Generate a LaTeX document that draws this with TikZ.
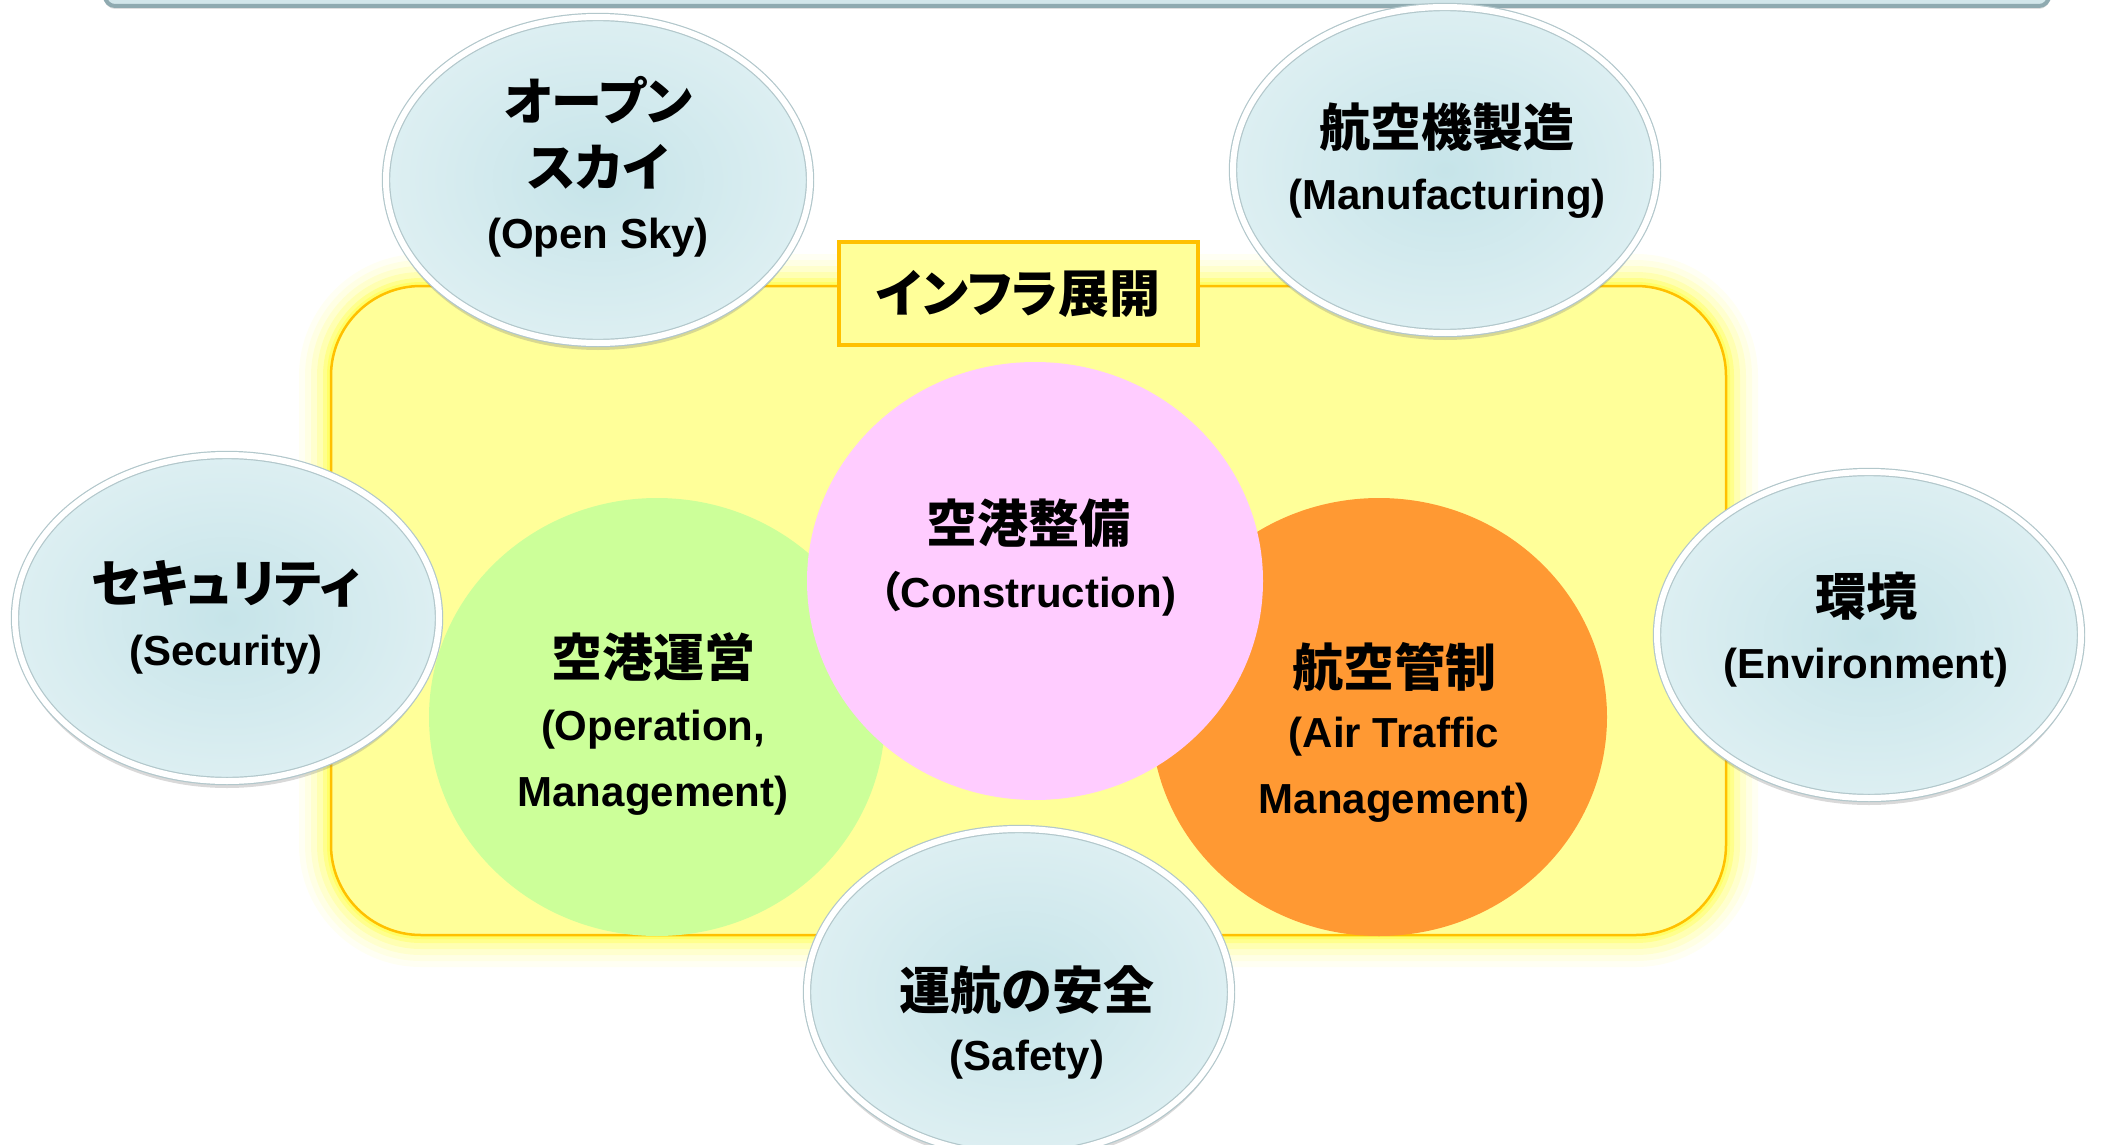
\documentclass[tikz,border=0pt]{standalone}
\usepackage{fontspec}
\setmainfont{Liberation Sans}
\newfontfamily\jp[RawFeature=+palt]{Noto Sans CJK JP}
\usetikzlibrary{shapes.geometric,shadows}
\definecolor{yfill}{HTML}{FFFF99}
\definecolor{yborder}{HTML}{FFC000}
\definecolor{yglow}{HTML}{FFFF33}
\definecolor{cgreen}{HTML}{CCFF99}
\definecolor{cpink}{HTML}{FFCCFF}
\definecolor{corange}{HTML}{FF9933}
\definecolor{ein}{HTML}{C6E4E9}
\definecolor{eout}{HTML}{DDEFF2}
\definecolor{erim}{HTML}{B2C7CB}
\definecolor{barfill}{HTML}{D2E6EA}
\definecolor{barline}{HTML}{8FAAB0}
\tikzset{
  jptxt/.style={font=\jp\bfseries\fontsize{51}{60}\selectfont, inner sep=0pt},
  entxt/.style={font=\bfseries\fontsize{42}{50}\selectfont, inner sep=0pt},
  glossy/.style={ellipse, inner sep=0pt, minimum width=424pt, minimum height=326pt,
    shading=radial, inner color=ein, outer color=eout,
    draw=erim, line width=1.2pt, double=white, double distance=6pt,
    drop shadow={shadow xshift=0pt, shadow yshift=-7pt, opacity=.3}},
  bigcirc/.style={ellipse, inner sep=0pt, minimum width=456pt, minimum height=438pt},
  glowline/.style={draw=yglow, rounded corners=90pt},
}
\begin{document}
\begin{tikzpicture}[x=1pt,y=-1pt]
\useasboundingbox (0,0) rectangle (2101,1145);
\clip (0,0) rectangle (2101,1145);
% top bar
\node[rectangle, rounded corners=10pt, fill=barfill, draw=barline, line width=4pt,
  minimum width=1944pt, minimum height=80pt,
  drop shadow={shadow xshift=0pt, shadow yshift=-3pt, opacity=.25}] (bar) at (1077,-34) {};
% glow of the yellow field
\foreach \lw/\op in {64/0.06, 52/0.08, 40/0.12, 28/0.18, 16/0.3, 8/0.4}{
  \draw[glowline, line width=\lw pt, opacity=\op] (331,286) rectangle (1726,935);
}
% yellow field
\node[rectangle, rounded corners=90pt, fill=yfill, draw=yborder, line width=2.5pt,
  minimum width=1395pt, minimum height=649pt] (infra) at (1028.5,610.5) {};
% label
\node[jptxt, rectangle, draw=yborder, line width=4pt, fill=yfill,
  minimum width=359pt, minimum height=103pt] (lbl) at (1018.5,293.5) {インフラ展開};
% three circles
\node[bigcirc, fill=cgreen] (ops) at (657,717) {};
\node[bigcirc, fill=corange] (atm) at (1379,717) {};
\node[bigcirc, fill=cpink] (con) at (1035,581) {};
\node[jptxt] (con1) at (1028,523) {空港整備};
\node[entxt] (con2) at (1028,594) {{\jp\bfseries （}Construction)};
\node[jptxt] (ops1) at (653,657) {空港運営};
\node[entxt] (ops2) at (653,730) {(Operation,};
\node[entxt] (ops3) at (653,796) {Management)};
\node[jptxt] (atm1) at (1394,667) {航空管制};
\node[entxt] (atm2) at (1394,737) {(Air Traffic};
\node[entxt] (atm3) at (1394,803) {Management)};
% surrounding ellipses
\node[glossy] (sky) at (598,180) {};
\node[jptxt] (sky1) at (598,100) {オープン};
\node[jptxt] (sky2) at (598,167) {スカイ};
\node[entxt] (sky3) at (598,238) {(Open Sky)};
\node[glossy] (man) at (1445,170) {};
\node[jptxt] (man1) at (1447,127) {航空機製造};
\node[entxt] (man2) at (1447,199) {(Manufacturing)};
\node[glossy] (sec) at (227,618) {};
\node[jptxt] (sec1) at (226,584) {セキュリティ};
\node[entxt] (sec2) at (226,655) {(Security)};
\node[glossy] (env) at (1869,635) {};
\node[jptxt] (env1) at (1866,596) {環境};
\node[entxt] (env2) at (1866,668) {(Environment)};
\node[glossy] (saf) at (1019,992) {};
\node[jptxt] (saf1) at (1027,990) {運航の安全};
\node[entxt] (saf2) at (1027,1060) {(Safety)};
\end{tikzpicture}
\end{document}
